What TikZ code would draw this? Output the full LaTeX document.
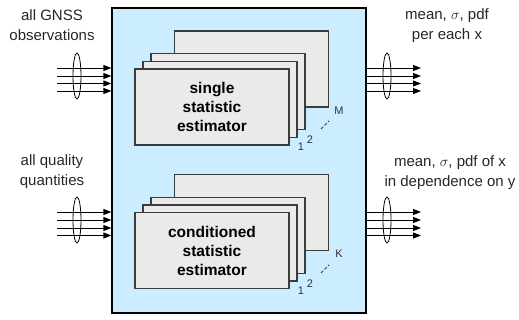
\documentclass[tikz,border=0pt]{standalone}
\usepackage{fontspec}
\setmainfont{Liberation Sans}
\usetikzlibrary{arrows.meta,shapes.geometric}
\definecolor{panelblue}{RGB}{204,236,255}
\definecolor{cardgray}{RGB}{234,234,234}
\definecolor{edgegray}{RGB}{60,60,60}
\begin{document}
\begin{tikzpicture}[x=1pt,y=-1pt,
  panel/.style={draw=black,line width=1.2pt,fill=panelblue,inner sep=0pt,
    minimum width=254pt,minimum height=305pt},
  card/.style={draw=edgegray,line width=1.1pt,fill=cardgray,inner sep=0pt,
    minimum width=154pt,minimum height=76pt,align=center,
    font=\fontsize{15.5pt}{19pt}\selectfont\bfseries},
  bundle/.style={draw=black,line width=0.8pt,inner sep=0pt,ellipse,
    minimum width=8pt,minimum height=46pt},
  wire/.style={draw=black,line width=0.9pt,-{Triangle[length=8pt,width=6pt]}},
  caption/.style={align=center,text=black!85,font=\fontsize{15pt}{20pt}\selectfont},
  idx/.style={inner sep=0pt,text=black!80,font=\fontsize{11pt}{11pt}\selectfont},
  dots/.style={draw=edgegray,line width=0.8pt,dash pattern=on 3pt off 2pt}
]
\useasboundingbox (0,0) rectangle (519,320);

% main processing panel
\node[panel] (sys) at (239,160.5) {};

% stack of single statistic estimators
\node[card] (sA4) at (251.5,69) {};
\node[card] (sA3) at (228,91.5) {};
\node[card] (sA2) at (220,99.5) {};
\node[card] (sA1) at (212,107) {single\\statistic\\estimator};
\node[idx] (sA1n) at (301,147) {1};
\node[idx] (sA2n) at (310,140) {2};
\node[idx] (sAMn) at (339,111) {M};
\coordinate (sAd1) at (321,129);
\coordinate (sAd2) at (329,121);
\draw[dots] (sAd1) -- (sAd2);

% stack of conditioned statistic estimators
\node[card] (sB4) at (251.5,212.5) {};
\node[card] (sB3) at (228,235.5) {};
\node[card] (sB2) at (220,243) {};
\node[card] (sB1) at (212,250.5) {conditioned\\statistic\\estimator};
\node[idx] (sB1n) at (301,291) {1};
\node[idx] (sB2n) at (310,284) {2};
\node[idx] (sBKn) at (339,254) {K};
\coordinate (sBd1) at (321,273);
\coordinate (sBd2) at (329,265);
\draw[dots] (sBd1) -- (sBd2);

% input and output bundles
\foreach \g/\ys in {A/{68,76,83.5,91},B/{212,220,228,235.5}}{
  \foreach \y [count=\i] in \ys {
    \coordinate (in\g\i) at (57,\y);
    \coordinate (out\g\i) at (421,\y);
    \draw[wire] (in\g\i) -- (in\g\i -| sys.west);
    \draw[wire] (sys.east |- out\g\i) -- (out\g\i);
  }
}
\node[bundle] (inAe) at (77,76) {};
\node[bundle] (outAe) at (387,76) {};
\node[bundle] (inBe) at (77,220) {};
\node[bundle] (outBe) at (387,220) {};

% captions
\node[caption] (inAt) at (52,25) {all GNSS\\observations};
\node[caption] (outAt) at (447,26) {mean, $\sigma$, pdf\\per each x};
\node[caption] (inBt) at (52,172) {all quality\\quantities};
\node[caption] (outBt) at (450,173) {mean, $\sigma$, pdf of x\\in dependence on y};
\end{tikzpicture}
\end{document}
